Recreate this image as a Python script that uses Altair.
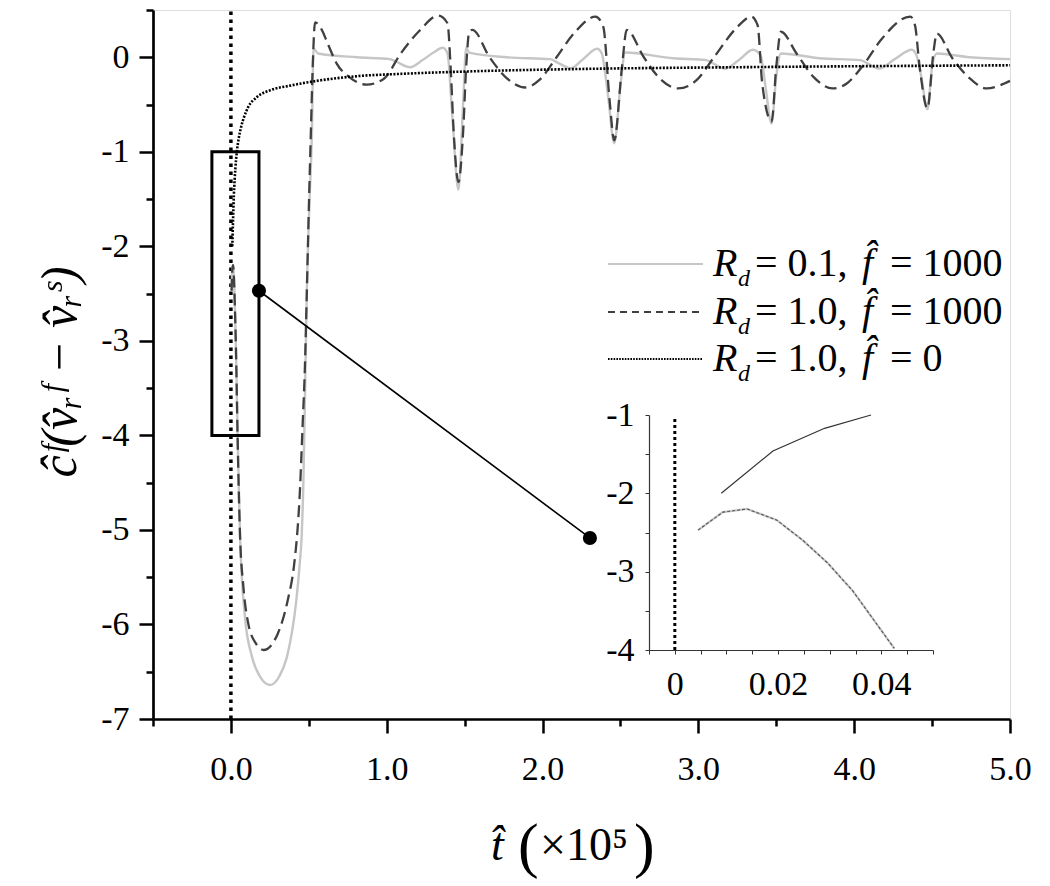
import altair as alt
import pandas as pd

# ---------------- data ----------------
# R_d = 0.1, f = 1000 (light grey, solid)
gray_x = [0.0045, 0.0093, 0.014, 0.0197, 0.0248, 0.0296, 0.0344, 0.0425, 0.058, 0.09, 0.135, 0.19, 0.25,
          0.31, 0.36, 0.42, 0.44, 0.455, 0.465, 0.475, 0.486, 0.505, 0.52, 0.53, 0.56, 0.81, 1.02, 1.065, 1.15, 1.23,
          1.30, 1.36, 1.39, 1.42, 1.46, 1.49, 1.51, 1.53, 1.77, 2.05, 2.10, 2.18, 2.26, 2.35, 2.38, 2.42,
          2.46, 2.50, 2.53, 2.84, 3.05, 3.10, 3.17, 3.26, 3.35, 3.40, 3.43, 3.47, 3.50, 3.53, 3.78, 4.04,
          4.09, 4.16, 4.26, 4.37, 4.40, 4.43, 4.47, 4.50, 4.53, 4.74, 5.0]
gray_y = [-2.47, -2.24, -2.20, -2.34, -2.60, -2.89, -3.24, -3.98, -5.03, -5.92, -6.34, -6.56, -6.64,
          -6.55, -6.34, -5.74, -5.39, -5.03, -4.5, -3.63, -2.57, -1.5, -0.80, 0.09, 0.04, 0.0, -0.02, -0.05, -0.105, -0.03,
          0.05, 0.10, 0.04, -0.6, -1.40, -0.5, 0.1, 0.05, 0.0, -0.02, -0.06, -0.115, -0.02, 0.09, 0.04, -0.4,
          -0.91, -0.3, 0.05, -0.01, -0.03, -0.07, -0.12, -0.03, 0.08, 0.02, -0.3, -0.70, -0.2, 0.04, -0.01, -0.03,
          -0.07, -0.12, -0.02, 0.08, 0.02, -0.2, -0.55, -0.1, 0.04, 0.0, -0.02]

# R_d = 1.0, f = 1000 (dark grey, dashed)
dash_x = [0.0045, 0.0093, 0.014, 0.0197, 0.0248, 0.0296, 0.0344, 0.0425, 0.058, 0.08, 0.11, 0.16, 0.21,
          0.30, 0.365, 0.404, 0.426, 0.44, 0.46, 0.475, 0.486, 0.50, 0.513, 0.525, 0.54, 0.58, 0.62, 0.68, 0.76, 0.87, 0.98,
          1.09, 1.21, 1.33, 1.39, 1.41, 1.43, 1.46, 1.49, 1.51, 1.53, 1.55, 1.66, 1.77, 1.89, 1.98, 2.09,
          2.20, 2.34, 2.39, 2.43, 2.46, 2.51, 2.54, 2.65, 2.75, 2.87, 2.99, 3.10, 3.25, 3.34, 3.38, 3.41,
          3.47, 3.50, 3.53, 3.63, 3.74, 3.86, 3.95, 4.06, 4.17, 4.36, 4.39, 4.42, 4.47, 4.51, 4.53, 4.63,
          4.74, 4.85, 4.96, 5.0]
dash_y = [-2.47, -2.24, -2.20, -2.34, -2.60, -2.89, -3.24, -3.98, -5.03, -5.6, -5.98, -6.20, -6.27,
          -6.10, -5.74, -5.39, -5.03, -4.68, -3.9, -3.27, -2.57, -1.6, -0.8, -0.1, 0.37, 0.30, 0.15, -0.07, -0.21, -0.29, -0.23,
          0.04, 0.28, 0.44, 0.36, -0.1, -0.80, -1.32, -0.80, -0.1, 0.27, 0.29, 0.0, -0.22, -0.32, -0.24, 0.0,
          0.25, 0.43, 0.32, -0.45, -0.88, -0.1, 0.29, 0.0, -0.22, -0.33, -0.24, 0.0, 0.32, 0.43, 0.34, -0.28,
          -0.68, -0.1, 0.27, 0.04, -0.21, -0.33, -0.28, -0.08, 0.18, 0.43, 0.34, -0.1, -0.54, 0.07, 0.25, -0.01,
          -0.22, -0.33, -0.28, -0.25]

# R_d = 1.0, f = 0 (black, dotted)
f0_x = [0.009, 0.019, 0.029, 0.038, 0.05, 0.065, 0.085, 0.11, 0.167, 0.25, 0.38, 0.55, 0.81, 1.1, 1.52,
        2.2, 3.27, 4.0, 5.0]
f0_y = [-2.0, -1.46, -1.17, -1.0, -0.86, -0.74, -0.63, -0.53, -0.42, -0.35, -0.30, -0.25, -0.20, -0.175,
        -0.15, -0.125, -0.105, -0.095, -0.085]

# inset (zoom of the first instants)
inset_f0_x = [0.009, 0.019, 0.029, 0.038]
inset_f0_y = [-2.0, -1.46, -1.17, -1.0]
inset_f1000_x = [0.0045, 0.0093, 0.014, 0.0197, 0.0248, 0.0296, 0.0344, 0.0425]
inset_f1000_y = [-2.47, -2.24, -2.20, -2.34, -2.60, -2.89, -3.24, -3.98]

# zoom box, connector
box_x = [-0.122]
box_x2 = [0.18]
box_y = [-1.0]
box_y2 = [-4.0]
conn_x = [0.18, 2.304]
conn_y = [-2.47, -5.085]

# tick values
main_x_ticks = [-0.5, 0.0, 0.5, 1.0, 1.5, 2.0, 2.5, 3.0, 3.5, 4.0, 4.5, 5.0]
main_y_ticks = [-7, -6.5, -6, -5.5, -5, -4.5, -4, -3.5, -3, -2.5, -2, -1.5, -1, -0.5, 0, 0.5]
inset_x_ticks = [-0.005, 0, 0.005, 0.01, 0.015, 0.02, 0.025, 0.03, 0.035, 0.04, 0.045, 0.05]
inset_y_ticks = [-4, -3.5, -3, -2.5, -2, -1.5, -1]

legend_rd = ["= 0.1,", "= 1.0,", "= 1.0,"]
legend_f = ["= 1000", "= 1000", "= 0"]

# ---------------- layout ----------------
LEFT, TOP = 153, 10        # page position of plot origin
W, H = 857, 709
SERIF = "Liberation Serif"


def rx(a):
    return a - LEFT


def ry(a):
    return a - TOP


xs = alt.Scale(domain=[-0.5, 5.0], nice=False, zero=False)
ys = alt.Scale(domain=[-7, 0.5], nice=False, zero=False)

major = {"condition": {"test": "datum.value % 1 === 0", "value": 14}, "value": 7}

x_axis = alt.Axis(values=main_x_ticks, title=None, grid=False,
                  labelExpr="datum.value % 1 === 0 ? format(datum.value, '.1f') : ''",
                  tickSize=major, tickWidth=2.5, tickColor="black",
                  domainColor="black", domainWidth=2.7,
                  labelFont=SERIF, labelFontSize=34, labelColor="black", labelPadding=19,
                  labelFlush=False, labelOverlap=False)
y_axis = alt.Axis(values=main_y_ticks, title=None, grid=False,
                  labelExpr="datum.value % 1 === 0 ? '' + datum.value : ''",
                  tickSize=major, tickWidth=2.5, tickColor="black",
                  domainColor="black", domainWidth=2.7,
                  labelFont=SERIF, labelFontSize=34, labelColor="black", labelPadding=10,
                  labelFlush=False, labelOverlap=False)

df_gray = pd.DataFrame({"x": gray_x, "y": gray_y})
df_dash = pd.DataFrame({"x": dash_x, "y": dash_y})
df_f0 = pd.DataFrame({"x": f0_x, "y": f0_y})

gray_line = alt.Chart(df_gray).mark_line(color="#c6c6c6", strokeWidth=2.4, interpolate="monotone").encode(
    x=alt.X("x:Q", scale=xs, axis=x_axis), y=alt.Y("y:Q", scale=ys, axis=y_axis))
dash_line = alt.Chart(df_dash).mark_line(color="#404040", strokeWidth=2.3, strokeDash=[12, 6],
                                         interpolate="monotone").encode(
    x=alt.X("x:Q", scale=xs), y=alt.Y("y:Q", scale=ys))
f0_line = alt.Chart(df_f0).mark_line(color="black", strokeWidth=2.6, strokeDash=[2, 1.5],
                                     interpolate="monotone").encode(
    x=alt.X("x:Q", scale=xs), y=alt.Y("y:Q", scale=ys))

vline = alt.Chart(pd.DataFrame({"x": [0.0], "y": [-7.0], "y2": [0.5]})).mark_rule(
    color="black", strokeWidth=3.5, strokeDash=[3.5, 4.5]).encode(
    x=alt.X("x:Q", scale=xs), y=alt.Y("y:Q", scale=ys), y2="y2:Q")

box = alt.Chart(pd.DataFrame({"x": box_x, "x2": box_x2, "y": box_y, "y2": box_y2})).mark_rect(
    fillOpacity=0, stroke="black", strokeWidth=3).encode(
    x=alt.X("x:Q", scale=xs), x2="x2:Q", y=alt.Y("y:Q", scale=ys), y2="y2:Q")

conn = alt.Chart(pd.DataFrame({"x": [conn_x[0]], "x2": [conn_x[1]], "y": [conn_y[0]], "y2": [conn_y[1]]})).mark_rule(
    color="black", strokeWidth=1.6).encode(
    x=alt.X("x:Q", scale=xs), x2="x2:Q", y=alt.Y("y:Q", scale=ys), y2="y2:Q")

dots = alt.Chart(pd.DataFrame({"x": conn_x, "y": conn_y})).mark_circle(
    color="black", opacity=1, size=200).encode(
    x=alt.X("x:Q", scale=xs), y=alt.Y("y:Q", scale=ys))

# legend (hand built)
legend_rows_y = [ry(264), ry(312), ry(359)]
line_x0, line_x1 = rx(608), rx(703)
leg_layers = []
styles = [dict(color="#c6c6c6", strokeWidth=2.2),
          dict(color="#404040", strokeWidth=2.0, strokeDash=[7, 5]),
          dict(color="black", strokeWidth=2.2, strokeDash=[1.6, 1.2])]
for i, yy in enumerate(legend_rows_y):
    leg_layers.append(alt.Chart(pd.DataFrame({"i": [i]})).mark_rule(**styles[i]).encode(
        x=alt.value(line_x0), x2=alt.value(line_x1), y=alt.value(yy)))
    base = alt.Chart(pd.DataFrame({"i": [i]}))
    leg_layers.append(base.mark_text(text="R", font=SERIF, fontSize=40, fontStyle="italic",
                                     align="left", baseline="alphabetic", color="black").encode(
        x=alt.value(rx(713)), y=alt.value(yy + 12)))
    leg_layers.append(base.mark_text(text="d", font=SERIF, fontSize=24, fontStyle="italic",
                                     align="left", baseline="alphabetic", color="black").encode(
        x=alt.value(rx(738)), y=alt.value(yy + 22)))
    leg_layers.append(base.mark_text(text=legend_rd[i], font=SERIF, fontSize=40,
                                     align="left", baseline="alphabetic", color="black").encode(
        x=alt.value(rx(755)), y=alt.value(yy + 12)))
    leg_layers.append(base.mark_text(text="f\u0302", font=SERIF, fontSize=40, fontStyle="italic",
                                     align="left", baseline="alphabetic", color="black").encode(
        x=alt.value(rx(862)), y=alt.value(yy + 12)))
    leg_layers.append(base.mark_text(text=legend_f[i], font=SERIF, fontSize=40,
                                     align="left", baseline="alphabetic", color="black").encode(
        x=alt.value(rx(890)), y=alt.value(yy + 12)))

# axis titles as text
tdf = pd.DataFrame({"i": [0]})
ytitle = alt.Chart(tdf).mark_text(text="\u0109\u1da0(v\u0302\u1d63\u1da0 \u2212 v\u0302\u1d63\u02e2)",
                                  font=SERIF, fontSize=50, fontStyle="italic", angle=270,
                                  align="center", baseline="alphabetic", color="black").encode(
    x=alt.value(rx(76)), y=alt.value(ry(372)))
xtitle_t = alt.Chart(tdf).mark_text(text="t\u0302", font=SERIF, fontSize=46, fontStyle="italic",
                                    align="left", baseline="alphabetic", color="black").encode(
    x=alt.value(rx(491)), y=alt.value(ry(860)))
xtitle_lp = alt.Chart(tdf).mark_text(text="(", font=SERIF, fontSize=62,
                                     align="left", baseline="alphabetic", color="black").encode(
    x=alt.value(rx(518)), y=alt.value(ry(866)))
xtitle_m = alt.Chart(tdf).mark_text(text="\u00d710\u2075", font=SERIF, fontSize=46,
                                    align="left", baseline="alphabetic", color="black").encode(
    x=alt.value(rx(540)), y=alt.value(ry(860)))
xtitle_rp = alt.Chart(tdf).mark_text(text=")", font=SERIF, fontSize=62,
                                     align="left", baseline="alphabetic", color="black").encode(
    x=alt.value(rx(634)), y=alt.value(ry(866)))

main = alt.layer(vline, gray_line, dash_line, f0_line, box, conn, dots, ytitle,
                 xtitle_t, xtitle_lp, xtitle_m, xtitle_rp, *leg_layers)

# ---------------- inset ----------------
ixs = alt.Scale(domain=[-0.005, 0.05], range=[rx(649), rx(933)], nice=False, zero=False)
iys = alt.Scale(domain=[-4, -1], range=[ry(650), ry(415)], nice=False, zero=False)
ix_axis = alt.Axis(orient="bottom", offset=-(719 - 650), values=inset_x_ticks, title=None, grid=False,
                   labelExpr="datum.value === 0 || datum.value === 0.02 || datum.value === 0.04 ? '' + datum.value : ''",
                   tickSize=4, tickWidth=1, tickColor="#333", domainColor="#333", domainWidth=1.2,
                   labelFont=SERIF, labelFontSize=34, labelColor="black", labelPadding=13,
                   labelFlush=False, labelOverlap=False)
iy_axis = alt.Axis(orient="left", offset=-(649 - 153), values=inset_y_ticks, title=None, grid=False,
                   labelExpr="datum.value % 1 === 0 ? '' + datum.value : ''",
                   tickSize=4, tickWidth=1, tickColor="#333", domainColor="#333", domainWidth=1.2,
                   labelFont=SERIF, labelFontSize=34, labelColor="black", labelPadding=11,
                   labelFlush=False, labelOverlap=False)

df_i1000 = pd.DataFrame({"x": inset_f1000_x, "y": inset_f1000_y})
df_i0 = pd.DataFrame({"x": inset_f0_x, "y": inset_f0_y})
i_gray = alt.Chart(df_i1000).mark_line(color="#c6c6c6", strokeWidth=2.2).encode(
    x=alt.X("x:Q", scale=ixs, axis=ix_axis), y=alt.Y("y:Q", scale=iys, axis=iy_axis))
i_dash = alt.Chart(df_i1000).mark_line(color="#555", strokeWidth=1.1, strokeDash=[3, 2]).encode(
    x=alt.X("x:Q", scale=ixs), y=alt.Y("y:Q", scale=iys))
i_f0 = alt.Chart(df_i0).mark_line(color="#333", strokeWidth=1.2).encode(
    x=alt.X("x:Q", scale=ixs), y=alt.Y("y:Q", scale=iys))
i_vline = alt.Chart(pd.DataFrame({"x": [0.0], "y": [-4.0], "y2": [-1.05]})).mark_rule(
    color="black", strokeWidth=3, strokeDash=[3, 3]).encode(
    x=alt.X("x:Q", scale=ixs), y=alt.Y("y:Q", scale=iys), y2="y2:Q")

inset = alt.layer(i_vline, i_gray, i_dash, i_f0)

chart = alt.layer(main, inset).resolve_scale(x="independent", y="independent").properties(
    width=W, height=H,
    autosize=alt.AutoSizeParams(type="none"),
    padding={"left": LEFT - 8, "top": TOP - 8, "right": 30, "bottom": 162},
).configure_view(stroke=None).configure(background="white")

chart.save("out.html", embed_options={"renderer": "svg", "actions": False})
